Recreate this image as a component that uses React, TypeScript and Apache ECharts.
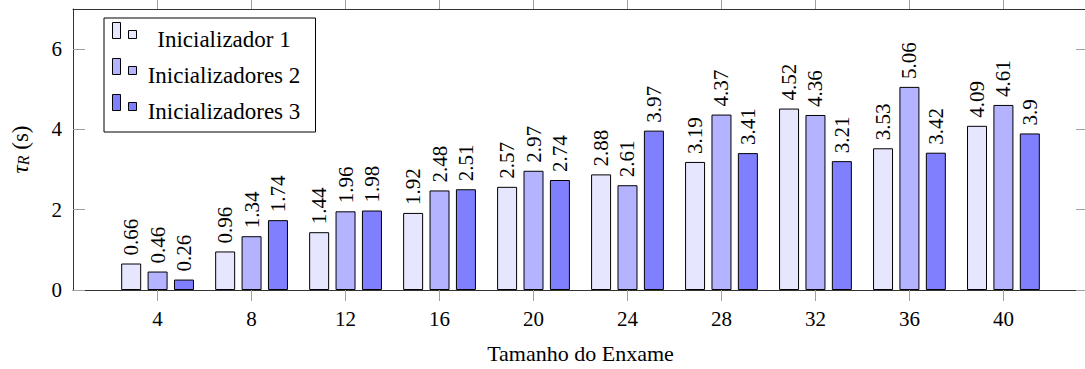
import React, { useEffect, useRef } from "react";
import * as echarts from "echarts";

const sizes = [4, 8, 12, 16, 20, 24, 28, 32, 36, 40];
const seriesNames = ["Inicializador 1", "Inicializadores 2", "Inicializadores 3"];
const init1 = [0.66, 0.96, 1.44, 1.92, 2.57, 2.88, 3.19, 4.52, 3.53, 4.09];
const init2 = [0.46, 1.34, 1.96, 2.48, 2.97, 2.61, 4.37, 4.36, 5.06, 4.61];
const init3 = [0.26, 1.74, 1.98, 2.51, 2.74, 3.97, 3.41, 3.21, 3.42, 3.9];
const yTicks = [0, 2, 4, 6];
const colors = ["#e6e6ff", "#b3b3ff", "#8080ff"];

const FONT = "Liberation Serif";
const AXIS_COLOR = "#333";
const TICK_COLOR = "#a0a0a0";

function makeSeries(name: string, values: number[], color: string) {
  return {
    name,
    type: "bar",
    xAxisIndex: 0,
    yAxisIndex: 0,
    barWidth: 20,
    barGap: "32%",
    data: sizes.map((x, i) => [x, values[i]]),
    itemStyle: { color, borderColor: "#000", borderWidth: 1 },
    label: {
      show: true,
      position: "top",
      rotate: 90,
      align: "left",
      verticalAlign: "middle",
      distance: 8,
      fontSize: 21,
      fontFamily: FONT,
      color: "#000",
      formatter: (p: any) => String(p.value[1]),
    },
  };
}

export default function App() {
  const ref = useRef<HTMLDivElement>(null);
  useEffect(() => {
    const chart = echarts.init(ref.current!, null, { renderer: "svg" });
    const xCommon = {
      type: "value",
      min: 0.4,
      max: 43.6,
      axisLine: { show: true, onZero: false, lineStyle: { color: AXIS_COLOR, width: 1 } },
      axisTick: { show: true, inside: false, length: 11, lineStyle: { color: TICK_COLOR }, customValues: sizes },
      splitLine: { show: false },
    };
    const yCommon = {
      type: "value",
      min: 0,
      max: 7,
      axisLine: { show: true, onZero: false, lineStyle: { color: AXIS_COLOR, width: 1 } },
      axisTick: { show: true, inside: true, length: 12, lineStyle: { color: TICK_COLOR }, customValues: yTicks },
      splitLine: { show: false },
    };
    chart.setOption({
      animation: false,
      backgroundColor: "#fff",
      textStyle: { fontFamily: FONT },
      grid: { left: 73, top: 9, width: 1015, height: 281, outerBoundsMode: "none", containLabel: false },
      legend: {
        orient: "vertical",
        left: 104,
        top: 18,
        padding: [4, 9, 2, 8],
        itemGap: 0,
        itemWidth: 24,
        itemHeight: 35,
        icon: "path://M0,0 L8,0 L8,16 L0,16 Z M16,8 L24,8 L24,16 L16,16 Z M0,35 L0,35",
        borderColor: "#000",
        borderWidth: 1,
        backgroundColor: "#fff",
        itemStyle: { borderColor: "#000", borderWidth: 1 },
        data: seriesNames,
        formatter: (name: string) => `{c|${name}}`,
        textStyle: {
          fontFamily: FONT,
          fontSize: 23,
          color: "#000",
          rich: {
            c: { width: 165, align: "center", fontFamily: FONT, fontSize: 23, color: "#000", lineHeight: 24, padding: [0, 0, 2, 0] },
          },
        },
      },
      xAxis: [
        {
          ...xCommon,
          position: "bottom",
          axisLabel: { customValues: sizes, margin: 18, fontSize: 21, fontFamily: FONT, color: "#000" },
          name: "Tamanho do Enxame",
          nameLocation: "middle",
          nameGap: 52,
          nameTextStyle: { fontSize: 22, fontFamily: FONT, color: "#000" },
        },
        { ...xCommon, position: "top", axisLabel: { show: false } },
      ],
      yAxis: [
        {
          ...yCommon,
          position: "left",
          axisLabel: { customValues: yTicks, margin: 11, fontSize: 21, fontFamily: FONT, color: "#000" },
          name: "{i|τ}{sub|R}{n| (s)}",
          nameLocation: "middle",
          nameGap: 42,
          nameTextStyle: {
            fontSize: 23,
            fontFamily: FONT,
            color: "#000",
            rich: {
              i: { fontStyle: "italic", fontSize: 23, fontFamily: FONT, color: "#000", lineHeight: 22, verticalAlign: "middle" },
              sub: { fontStyle: "italic", fontSize: 16, fontFamily: FONT, color: "#000", lineHeight: 12, verticalAlign: "bottom" },
              n: { fontSize: 23, fontFamily: FONT, color: "#000", lineHeight: 22, verticalAlign: "middle" },
            },
          },
        },
        { ...yCommon, position: "right", axisLabel: { show: false } },
      ],
      series: [
        makeSeries(seriesNames[0], init1, colors[0]),
        makeSeries(seriesNames[1], init2, colors[1]),
        makeSeries(seriesNames[2], init3, colors[2]),
      ],
    });
    return () => chart.dispose();
  }, []);
  return <div ref={ref} style={{ position: "fixed", left: 0, top: 0, width: 1085, height: 369 }} />;
}
